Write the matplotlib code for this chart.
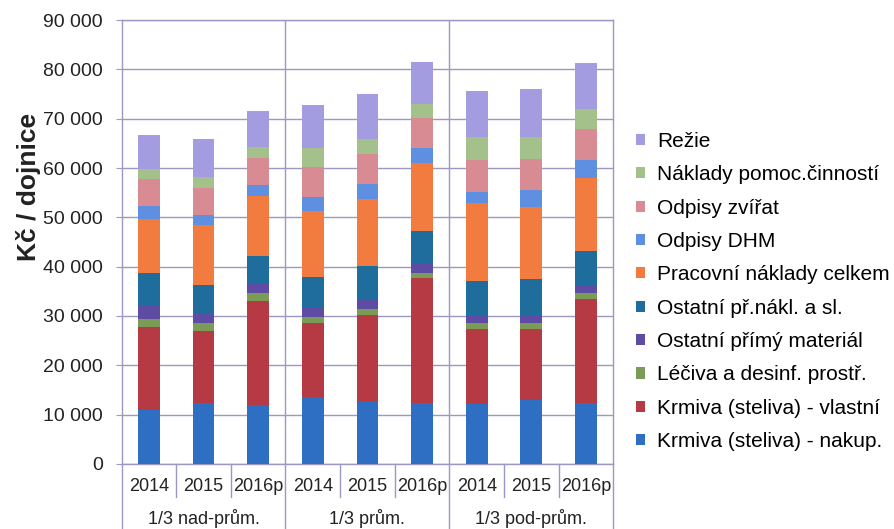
import numpy as np
import matplotlib
matplotlib.use("Agg")
import matplotlib.pyplot as plt
from matplotlib.ticker import MultipleLocator, FuncFormatter
import matplotlib.transforms as mtransforms

plt.rcParams['font.family'] = ['Liberation Sans', 'DejaVu Sans']

# categories
years = ['2014', '2015', '2016p'] * 3
groups = ['1/3 nad-prům.', '1/3 prům.', '1/3 pod-prům.']

# series, bottom to top (Kč / dojnice)
series = [
    'Krmiva (steliva) - nakup.',
    'Krmiva (steliva) - vlastní',
    'Léčiva a desinf. prostř.',
    'Ostatní přímý materiál',
    'Ostatní př.nákl. a sl.',
    'Pracovní náklady celkem',
    'Odpisy DHM',
    'Odpisy zvířat',
    'Náklady pomoc.činností',
    'Režie',
]
krmiva_nakup = [10950, 12430, 11960, 13510, 12840, 12300, 12090, 12970, 12430]
krmiva_vlastni = [16880, 14600, 21150, 15140, 17360, 25330, 15210, 14460, 21020]
leciva = [1500, 1480, 1490, 1220, 1150, 1020, 1210, 1220, 1150]
ostatni_mat = [2830, 2030, 1820, 1820, 1890, 1820, 1690, 1620, 1480]
ostatni_nakl = [6630, 5750, 5810, 6150, 6900, 6760, 6960, 7160, 7100]
pracovni = [10810, 12090, 12170, 13380, 13510, 13720, 15680, 14600, 14730]
odpisy_dhm = [2700, 2020, 2160, 2970, 3110, 3180, 2360, 3510, 3710]
odpisy_zvirat = [5470, 5550, 5400, 6010, 6010, 5940, 6420, 6220, 6220]
pomoc = [2030, 2300, 2230, 3790, 3110, 2900, 4730, 4590, 4120]
rezie = [6890, 7560, 7370, 8780, 9050, 8590, 9330, 9600, 9390]

values = [krmiva_nakup, krmiva_vlastni, leciva, ostatni_mat, ostatni_nakl,
          pracovni, odpisy_dhm, odpisy_zvirat, pomoc, rezie]
colors = ['#2f6fc3', '#b63a44', '#7b9c57', '#5d4ba4', '#1f6d9c',
          '#f27c40', '#5f8fe0', '#d98b93', '#a4c18b', '#a39ce0']

grid_c = '#9c98c4'
txt_c = '#222222'

fig = plt.figure(figsize=(8.94, 5.29), dpi=100)
ax = fig.add_axes([0.136, 0.123, 0.550, 0.839])

x = np.arange(len(years))
bottom = np.zeros(len(years))
for name, vals, c in zip(series, values, colors):
    ax.bar(x, vals, width=0.40, bottom=bottom, color=c, label=name, zorder=3)
    bottom += np.array(vals)

ax.set_xlim(-0.5, 8.5)
ax.set_ylim(0, 90000)
ax.yaxis.set_major_locator(MultipleLocator(10000))
ax.yaxis.set_major_formatter(FuncFormatter(lambda v, p: f'{int(v):,}'.replace(',', ' ')))
ax.grid(axis='y', color=grid_c, linewidth=1.0, zorder=0)
for s in ax.spines.values():
    s.set_color(grid_c)
    s.set_linewidth(1.0)

ax.set_xticks(x)
ax.set_xticklabels(years)
ax.tick_params(axis='x', length=0, pad=10, labelsize=13, labelcolor=txt_c)
ax.tick_params(axis='y', length=4.5, pad=9, color=grid_c, labelsize=14, labelcolor=txt_c)

# group dividers inside the plot
for b in [2.5, 5.5]:
    ax.axvline(b, color=grid_c, linewidth=1.0, zorder=1)

# category lines below the axis
trans = mtransforms.blended_transform_factory(ax.transData, ax.transAxes)
for b in [0.5, 1.5, 3.5, 4.5, 6.5, 7.5]:
    ax.plot([b, b], [0, -0.075], transform=trans, color=grid_c, lw=1.0, clip_on=False)
for b in [-0.5, 2.5, 5.5, 8.5]:
    ax.plot([b, b], [0, -0.16], transform=trans, color=grid_c, lw=1.0, clip_on=False)
for i, g in enumerate(groups):
    ax.text(3 * i + 1, -0.124, g, transform=trans, ha='center', va='center',
            fontsize=13, color=txt_c)

fig.text(0.032, 1 - 187 / 529, 'Kč / dojnice', rotation=90, ha='center', va='center',
         fontsize=19, fontweight='bold', color=txt_c)

h, l = ax.get_legend_handles_labels()
fig.legend(h[::-1], l[::-1], loc='center left', bbox_to_anchor=(0.690, 0.449),
           frameon=False, fontsize=15, handlelength=0.45, handleheight=0.45,
           handletextpad=0.6, labelspacing=0.69)

fig.savefig('out.png', dpi=100)
